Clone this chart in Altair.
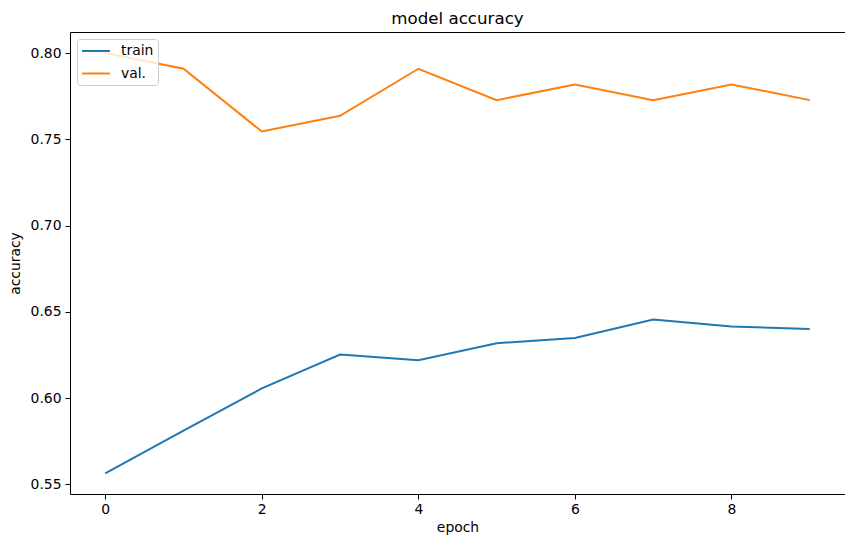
import altair as alt
import pandas as pd

epochs = [0, 1, 2, 3, 4, 5, 6, 7, 8, 9]
train_acc = [0.5564, 0.5812, 0.6056, 0.6252, 0.6220, 0.6318, 0.6348, 0.6455, 0.6415, 0.6400]
val_acc = [0.8000, 0.7909, 0.7545, 0.7636, 0.7909, 0.7727, 0.7818, 0.7727, 0.7818, 0.7727]
series_names = ["train", "val."]
series_colors = ["#1f77b4", "#ff7f0e"]
y_ticks = [0.55, 0.60, 0.65, 0.70, 0.75, 0.80]
x_ticks = [0, 2, 4, 6, 8]

df = pd.concat([
    pd.DataFrame({"epoch": epochs, "accuracy": train_acc, "series": series_names[0]}),
    pd.DataFrame({"epoch": epochs, "accuracy": val_acc, "series": series_names[1]}),
])

FONT = "DejaVu Sans"

chart = alt.Chart(df).mark_line(strokeWidth=2, clip=True).encode(
    x=alt.X("epoch:Q", scale=alt.Scale(domain=[-0.45, 9.45], nice=False, zero=False),
            axis=alt.Axis(values=x_ticks, title="epoch", format="d")),
    y=alt.Y("accuracy:Q", scale=alt.Scale(domain=[0.5444, 0.8122], nice=False, zero=False),
            axis=alt.Axis(values=y_ticks, title="accuracy", format=".2f")),
    color=alt.Color("series:N", scale=alt.Scale(domain=series_names, range=series_colors),
                    legend=alt.Legend(title=None, orient="top-left")),
).properties(
    width=775,
    height=462,
    title=alt.TitleParams("model accuracy", font=FONT, fontSize=16.67, fontWeight="normal",
                          color="black", offset=4),
    autosize=alt.AutoSizeParams(type="none"),
    padding={"left": 62, "top": 24, "right": 0, "bottom": 44},
).configure_view(
    stroke="black", strokeWidth=1
).configure_axis(
    grid=False,
    domain=False,
    tickColor="black",
    tickSize=5,
    tickWidth=1,
    labelFont=FONT,
    labelFontSize=13.9,
    labelColor="black",
    labelPadding=3,
    titleFont=FONT,
    titleFontSize=13.9,
    titleFontWeight="normal",
    titleColor="black",
).configure_axisX(
    titlePadding=5,
).configure_axisY(
    labelPadding=4,
    titlePadding=8,
).configure_legend(
    offset=7,
    padding=4,
    fillColor="rgba(255,255,255,0.8)",
    strokeColor="#cccccc",
    cornerRadius=3,
    symbolType="M-1,0H3",
    symbolStrokeWidth=2,
    symbolSize=196,
    symbolFillColor="transparent",
    labelFont=FONT,
    labelFontSize=13.9,
    labelColor="black",
    labelOffset=24,
    rowPadding=7.5,
)

chart.save("out.html", embed_options={"renderer": "svg", "actions": False})
